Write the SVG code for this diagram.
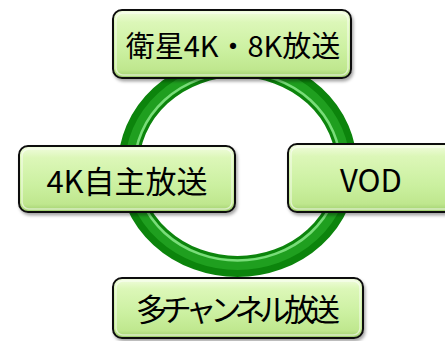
<svg xmlns="http://www.w3.org/2000/svg" width="445" height="341" viewBox="0 0 445 341">
  <defs>
    <linearGradient id="boxFill" x1="0" y1="0" x2="0" y2="1">
      <stop offset="0" stop-color="#f2fde0"/>
      <stop offset="0.18" stop-color="#dcf7b8"/>
      <stop offset="0.6" stop-color="#cbf0a0"/>
      <stop offset="0.88" stop-color="#bfe78e"/>
      <stop offset="1" stop-color="#9ccc6a"/>
    </linearGradient>
    <filter id="shadow" x="-10%" y="-10%" width="130%" height="140%">
      <feDropShadow dx="1.5" dy="2.5" stdDeviation="1.5" flood-color="#000" flood-opacity="0.35"/>
    </filter>
  </defs>
  <style>
    .box { fill: url(#boxFill); stroke: #111; stroke-width: 2; filter: url(#shadow); }
    .bevel { fill: none; stroke: #ffffff; stroke-opacity: 0.55; stroke-width: 1.5; }
    .label { font-family: "Noto Sans CJK JP", "Noto Sans", sans-serif; font-size: 31px; fill: #000; text-anchor: middle; dominant-baseline: central; }
    .ring-base { fill: none; stroke: #0c840c; stroke-width: 21; }
    .ring-mid { fill: none; stroke: #1f9f1f; stroke-width: 11; }
    .ring-hi { fill: none; stroke: #8ae88a; stroke-width: 2.5; stroke-opacity: 0.85; }
  </style>
  <rect width="445" height="341" fill="#ffffff"/>
  <g id="connectors">
    <ellipse class="ring-base" cx="237.5" cy="166.5" rx="109" ry="100"/>
    <ellipse class="ring-mid" cx="237.5" cy="166.5" rx="107" ry="98"/>
    <ellipse class="ring-hi" cx="237.5" cy="166.5" rx="103" ry="94"/>
  </g>
  <g id="node-top">
    <rect class="box" x="113" y="10" width="238" height="68" rx="9"/>
    <rect class="bevel" x="116" y="13" width="232" height="62" rx="7"/>
    <text class="label" x="233" y="44" style="font-size:29px">衛星4K・8K放送</text>
  </g>
  <g id="node-left">
    <rect class="box" x="19" y="146" width="216" height="66" rx="9"/>
    <rect class="bevel" x="22" y="149" width="210" height="60" rx="7"/>
    <text class="label" x="127" y="179">4K自主放送</text>
  </g>
  <g id="node-right">
    <rect class="box" x="288" y="144" width="175" height="68" rx="9"/>
    <rect class="bevel" x="291" y="147" width="169" height="62" rx="7"/>
    <text class="label" x="371" y="178">VOD</text>
  </g>
  <g id="node-bottom">
    <rect class="box" x="113" y="278" width="250" height="60" rx="9"/>
    <rect class="bevel" x="116" y="281" width="244" height="54" rx="7"/>
    <text class="label" x="238" y="307" textLength="204" lengthAdjust="spacing">多チャンネル放送</text>
  </g>
</svg>
